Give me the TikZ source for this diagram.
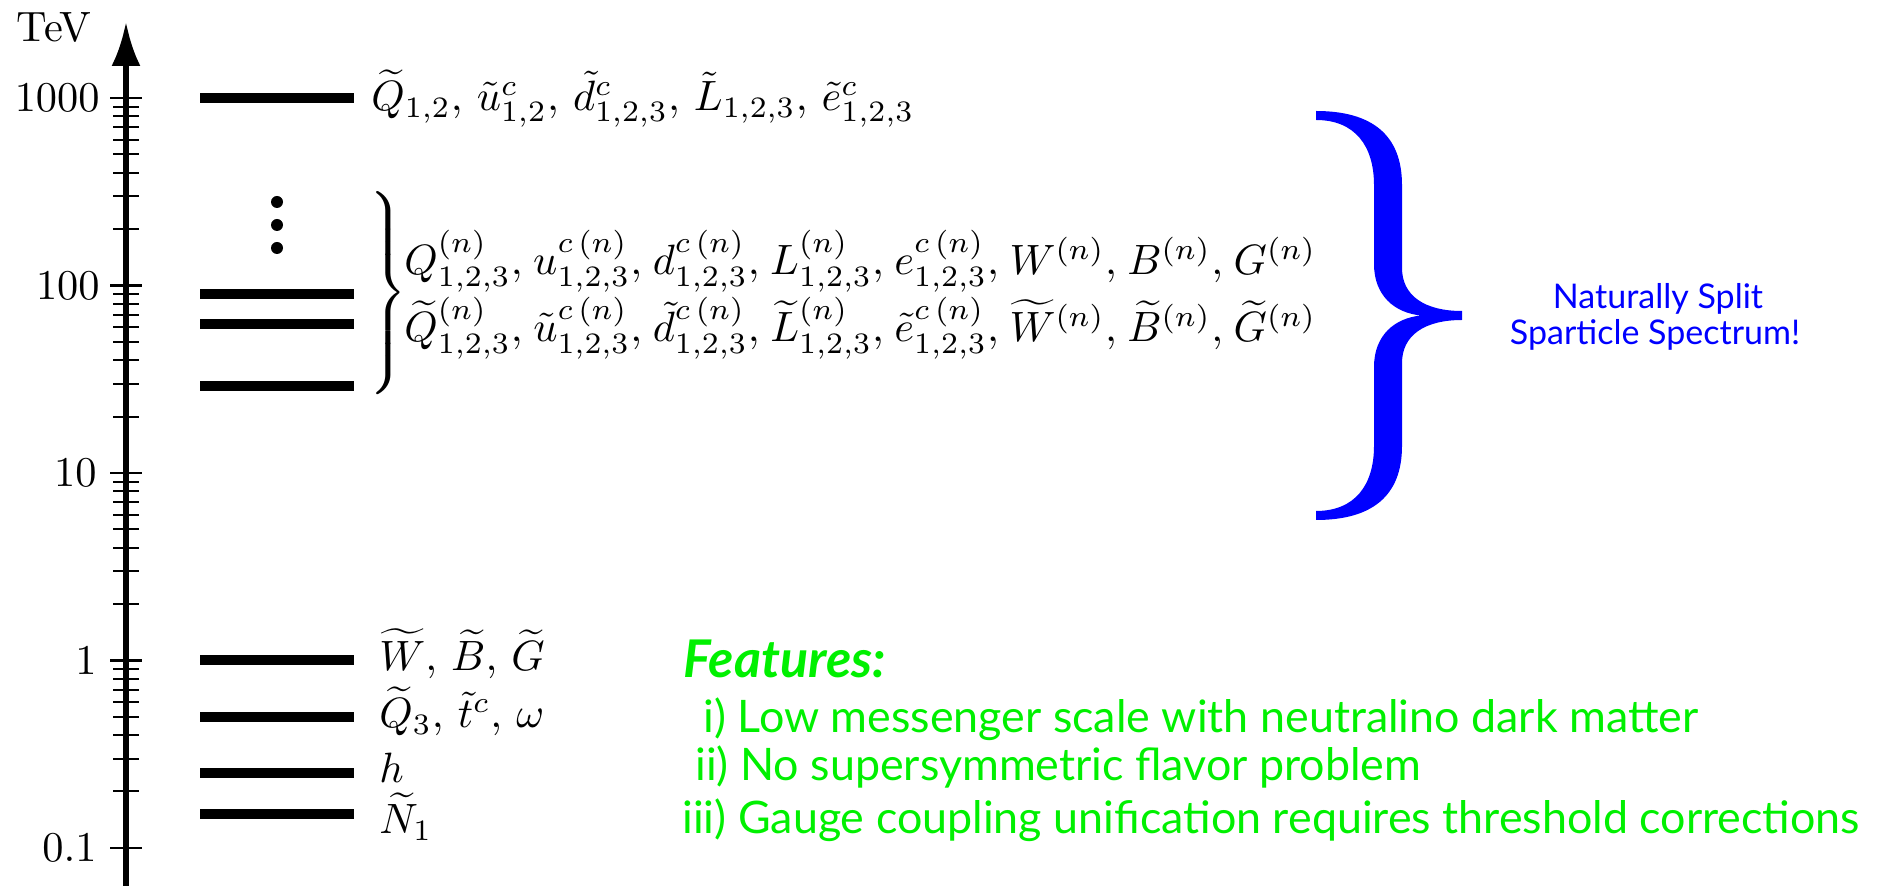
\documentclass[tikz,border=0pt]{standalone}
\usepackage{amsmath,amssymb}
\usepackage{fontspec}
\setsansfont{Lato}
\usepackage{xcolor}
\usetikzlibrary{arrows.meta,positioning}

\definecolor{sparticleblue}{RGB}{0,0,255}
\definecolor{featuregreen}{RGB}{0,240,0}

%% labels of the spectrum are set at 10pt and blown up
\newcommand{\cmlabel}[1]{\scalebox{2.12}{#1}}
\newcommand{\sep}{,\mkern1.5mu}

\tikzset{
  axisline/.style={line width=2.8pt},
  majortick/.style={line width=1.1pt},
  minortick/.style={line width=1pt},
  level/.style={line width=5pt},
  scalelabel/.style={anchor=east, inner sep=0pt},
  partlabel/.style={anchor=base west, inner sep=0pt},
  featline/.style={font=\sffamily\fontsize{22.4}{27}\selectfont, text=featuregreen, anchor=west, inner sep=0pt},
  noteline/.style={font=\sffamily\fontsize{17}{21}\selectfont, text=sparticleblue, anchor=base, inner sep=0pt},
}

\begin{document}
\begin{tikzpicture}[x=0.5pt, y=-0.5pt, declare function={ey(\e)=848-187.5*(log10(\e)+1);}]
  \useasboundingbox (0,0) rectangle (1885,886);

  %% Energy axis
  \coordinate (axbot) at (126,886);
  \coordinate (axtop) at (126,22);
  \draw[axisline, -{Latex[length=22pt,width=14.5pt]}] (axbot) -- (axtop);
  \node[inner sep=0pt] (tev) at (54,27) {\cmlabel{TeV}};

  %% Decade ticks and minor ticks
  \foreach \d in {0.1,1,10,100,1000}
    \draw[majortick] (110,{ey(\d)}) -- (142,{ey(\d)});
  \foreach \d in {0.1,1,10,100}
    \foreach \m in {2,...,9}
      \draw[minortick] (113,{ey(\m*\d)}) -- (139,{ey(\m*\d)});

  %% Decade labels
  \node[scalelabel] (l1000) at (100,{ey(1000)}) {\cmlabel{$1000$}};
  \node[scalelabel] (l100)  at (100,{ey(100)})  {\cmlabel{$100$}};
  \node[scalelabel] (l10)   at (97,{ey(10)})    {\cmlabel{$10$}};
  \node[scalelabel] (l1)    at (97,{ey(1)})     {\cmlabel{$1$}};
  \node[scalelabel] (l01)   at (97,{ey(0.1)})   {\cmlabel{$0.1$}};

  %% Mass levels
  \foreach \e in {1000,90,62,29,1,0.5,0.25,0.15}
    \draw[level] (200,{ey(\e)}) -- (354,{ey(\e)});

  %% Dots above the KK tower
  \foreach \yy in {202,225,248}
    \fill (277,\yy) circle[radius=3pt];

  %% Particle labels
  \node[partlabel] (heavysq) at (371,111)
    {\cmlabel{$\widetilde{Q}_{1,2},\, \tilde{u}^c_{1,2},\, \tilde{d}^c_{1,2,3},\, \tilde{L}_{1,2,3},\, \tilde{e}^c_{1,2,3}$}};
  \node[inner sep=0pt] (kkbrace) at (386,295)
    {\cmlabel{$\left.\vrule height 22.4pt depth 22.4pt width 0pt\right\}$}};
  \node[partlabel] (kkmodes) at (404,275)
    {\cmlabel{$Q^{(n)}_{1,2,3}\sep u^{c\,(n)}_{1,2,3}\sep d^{c\,(n)}_{1,2,3}\sep L^{(n)}_{1,2,3}\sep e^{c\,(n)}_{1,2,3}\sep W^{(n)}\sep B^{(n)}\sep G^{(n)}$}};
  \node[partlabel] (kktilde) at (404,342)
    {\cmlabel{$\widetilde{Q}^{(n)}_{1,2,3}\sep \tilde{u}^{c\,(n)}_{1,2,3}\sep \tilde{d}^{c\,(n)}_{1,2,3}\sep \widetilde{L}^{(n)}_{1,2,3}\sep \tilde{e}^{c\,(n)}_{1,2,3}\sep \widetilde{W}^{(n)}\sep \widetilde{B}^{(n)}\sep \widetilde{G}^{(n)}$}};
  \node[partlabel] (gauginos) at (379,671)
    {\cmlabel{$\widetilde{W},\, \widetilde{B},\, \widetilde{G}$}};
  \node[partlabel] (thirdgen) at (379,728)
    {\cmlabel{$\widetilde{Q}_3,\, \tilde{t}^c,\, \omega$}};
  \node[partlabel] (higgs) at (379,783) {\cmlabel{$h$}};
  \node[partlabel] (neutralino) at (379,834) {\cmlabel{$\widetilde{N}_1$}};

  %% Big blue brace
  \fill[sparticleblue] (1316,111) .. controls (1372,111) and (1402,135) .. (1402,185)
    -- (1402,268) .. controls (1402,296) and (1425,311) .. (1462,311)
    -- (1462,320) .. controls (1425,320) and (1402,335) .. (1402,363)
    -- (1402,446) .. controls (1402,496) and (1372,520) .. (1316,520)
    -- (1316,511) .. controls (1355,511) and (1374,485) .. (1374,446)
    -- (1374,367) .. controls (1374,335) and (1395,318) .. (1421,315.5)
    .. controls (1395,313) and (1374,296) .. (1374,264)
    -- (1374,185) .. controls (1374,146) and (1355,120) .. (1316,120) -- cycle;
  \node[noteline] (natsplit) at (1658,309) {Naturally Split};
  \node[noteline] (sparticle) at (1655,345) {Sparticle Spectrum!};

  %% Features
  \node[font=\sffamily\bfseries\itshape\fontsize{26}{30}\selectfont, text=featuregreen, anchor=west, inner sep=0pt]
    (features) at (683,659) {Features:};
  \node[featline] (feat1) at (703,719) {i) Low messenger scale with neutralino dark matter};
  \node[featline] (feat2) at (695,767) {ii) No supersymmetric flavor problem};
  \node[featline] (feat3) at (682,820) {iii) Gauge coupling unification requires threshold corrections};
\end{tikzpicture}
\end{document}
